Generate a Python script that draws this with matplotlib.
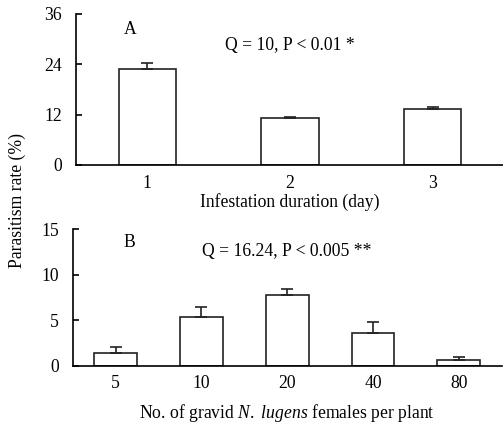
import matplotlib.pyplot as plt

plt.rcParams['font.family'] = 'Liberation Serif'
plt.rcParams['font.size'] = 12.7
plt.rcParams['mathtext.fontset'] = 'custom'
plt.rcParams['mathtext.rm'] = 'Liberation Serif'
plt.rcParams['mathtext.it'] = 'Liberation Serif:italic'

days = ['1', '2', '3']
rate_a = [22.9, 11.1, 13.3]
err_a = [1.4, 0.4, 0.5]

females = ['5', '10', '20', '40', '80']
rate_b = [1.43, 5.31, 7.76, 3.62, 0.59]
err_b = [0.62, 1.10, 0.69, 1.21, 0.36]

fig = plt.figure(figsize=(5.03, 4.23), dpi=100)
ax1 = fig.add_axes([0.151, 0.610, 0.851, 0.357])
ax2 = fig.add_axes([0.1445, 0.1355, 0.853, 0.323])


def style(ax):
    for s in ['top', 'right']:
        ax.spines[s].set_visible(False)
    for s in ['left', 'bottom']:
        ax.spines[s].set_linewidth(1.2)
    ax.tick_params(axis='y', direction='in', length=4, width=1.2, pad=10)
    ax.tick_params(axis='x', length=0, pad=7)


x1 = range(1, len(days) + 1)
ax1.bar(x1, rate_a, width=0.4, color='white', edgecolor='#222222', linewidth=1.2,
        yerr=[[0] * len(err_a), err_a], capsize=4,
        error_kw=dict(elinewidth=1.2, capthick=1.2, ecolor='#222222'))
ax1.set_xlim(0.5, 3.5)
ax1.set_ylim(0, 36)
ax1.set_yticks([0, 12, 24, 36])
ax1.set_xticks(list(x1))
ax1.set_xticklabels(days)
ax1.set_xlabel('Infestation duration (day)', labelpad=1)
ax1.text(0.88, 32.2, 'A', ha='center', va='center')
ax1.text(2.0, 28.6, 'Q = 10, P < 0.01 *', ha='center', va='center')
style(ax1)

x2 = range(1, len(females) + 1)
ax2.bar(x2, rate_b, width=0.5, color='white', edgecolor='#222222', linewidth=1.2,
        yerr=[[0] * len(err_b), err_b], capsize=4,
        error_kw=dict(elinewidth=1.2, capthick=1.2, ecolor='#222222'))
ax2.set_xlim(0.5, 5.5)
ax2.set_ylim(0, 15)
ax2.set_yticks([0, 5, 10, 15])
ax2.set_xticks(list(x2))
ax2.set_xticklabels(females)
ax2.set_xlabel('No. of gravid $\\it{N.}$ $\\it{lugens}$ females per plant', labelpad=7)
ax2.text(1.155, 13.5, 'B', ha='center', va='center')
ax2.text(3.0, 12.5, 'Q = 16.24, P < 0.005 **', ha='center', va='center')
style(ax2)

fig.text(0.034, 0.525, 'Parasitism rate (%)', rotation=90, ha='center', va='center')

fig.savefig('out.png', dpi=100)
